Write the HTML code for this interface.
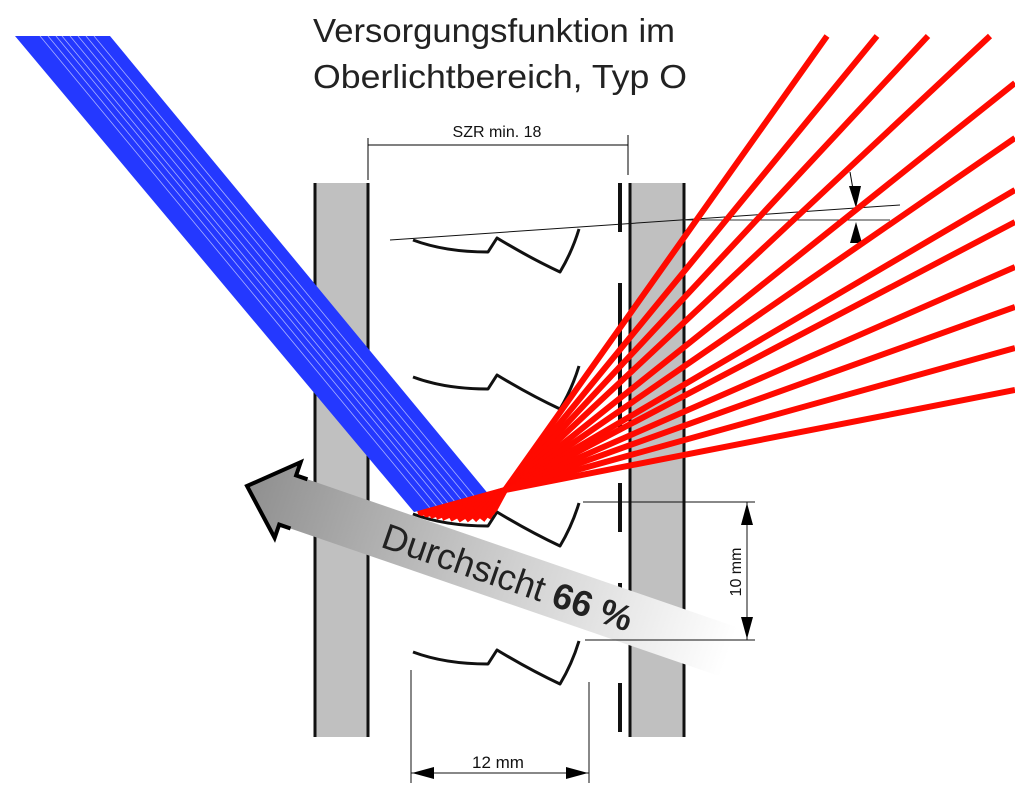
<!DOCTYPE html>
<html><head><meta charset="utf-8"><style>
html,body{margin:0;padding:0;background:#fff;}
svg{display:block;}
text{font-family:"Liberation Sans",sans-serif;}
</style></head><body>
<svg width="1015" height="793" viewBox="0 0 1015 793" xmlns="http://www.w3.org/2000/svg">
<defs>
<linearGradient id="g" x1="0" y1="0" x2="1" y2="0">
<stop offset="0" stop-color="#8f8f8f"/><stop offset="0.55" stop-color="#d0d0d0"/><stop offset="1" stop-color="#ffffff"/>
</linearGradient>
<clipPath id="bc"><polygon points="15,36 110,36 490,496 414,512"/></clipPath>
</defs>

<!-- title -->
<text x="494" y="42" font-size="33" text-anchor="middle" fill="#222" textLength="362" lengthAdjust="spacingAndGlyphs">Versorgungsfunktion im</text>
<text x="500" y="88" font-size="33" text-anchor="middle" fill="#222" textLength="374" lengthAdjust="spacingAndGlyphs">Oberlichtbereich, Typ O</text>

<!-- SZR dim -->
<text x="497" y="137" font-size="16" text-anchor="middle" fill="#111">SZR min. 18</text>
<line x1="368" y1="145" x2="628" y2="145" stroke="#000" stroke-width="1"/>
<line x1="368" y1="138" x2="368" y2="180" stroke="#000" stroke-width="1"/>
<line x1="628" y1="135" x2="628" y2="175" stroke="#000" stroke-width="1"/>

<!-- panes -->
<rect x="314" y="183" width="55" height="554" fill="#c0c0c0"/>
<line x1="315" y1="183" x2="315" y2="737" stroke="#111" stroke-width="3"/>
<line x1="368" y1="183" x2="368" y2="737" stroke="#111" stroke-width="3"/>
<rect x="629" y="183" width="55" height="554" fill="#c0c0c0"/>
<line x1="630" y1="183" x2="630" y2="737" stroke="#111" stroke-width="3"/>
<line x1="684" y1="183" x2="684" y2="737" stroke="#111" stroke-width="3"/>
<g stroke="#111" stroke-width="4">
<line x1="620" y1="183" x2="620" y2="232"/>
<line x1="620" y1="283" x2="620" y2="430"/>
<line x1="620" y1="483" x2="620" y2="532"/>
<line x1="620" y1="583" x2="620" y2="640"/>
<line x1="620" y1="683" x2="620" y2="732"/>
</g>

<!-- slats -->
<g fill="none" stroke="#111" stroke-width="3" stroke-linejoin="round">
<path d="M413,240 Q445,252 488,252 L497,238 Q530,258 560,272 Q572,252 579,229"/>
<path d="M413,377 Q445,389 488,389 L497,375 Q530,395 560,409 Q572,389 579,366"/>
<path d="M413,514 Q445,526 488,526 L497,512 Q530,532 560,546 Q572,526 579,503"/>
<path d="M413,652 Q445,664 488,664 L497,650 Q530,670 560,684 Q572,664 579,641"/>
</g>

<!-- angle lines -->
<line x1="390" y1="240" x2="900" y2="205" stroke="#111" stroke-width="1"/>
<line x1="684" y1="220" x2="890" y2="220" stroke="#333" stroke-width="1"/>
<line x1="850" y1="172" x2="854" y2="195" stroke="#000" stroke-width="1"/>
<polygon points="849,186 861,186 856,208" fill="#000"/>
<polygon points="850,243 862,243 856,222" fill="#000"/>

<!-- blue beam -->
<polygon points="15,36 110,36 490,496 414,512" fill="#2438ff"/>
<g clip-path="url(#bc)" stroke="#fff" stroke-opacity="0.6" stroke-width="0.8">
<line x1="40" y1="36" x2="440" y2="520"/>
<line x1="48" y1="36" x2="448" y2="520"/>
<line x1="56" y1="36" x2="456" y2="520"/>
<line x1="62" y1="36" x2="462" y2="520"/>
<line x1="70" y1="36" x2="470" y2="520"/>
<line x1="78" y1="36" x2="478" y2="520"/>
<line x1="86" y1="36" x2="486" y2="520"/>
<line x1="94" y1="36" x2="494" y2="520"/>
</g>

<!-- red rays -->
<g fill="none" stroke="#ff0a00" stroke-width="6" stroke-linejoin="round">
<polyline points="418,514 505,490 827,36"/>
<polyline points="424,515 505,490 877,36"/>
<polyline points="430,516 505,490 928,36"/>
<polyline points="436,517 505,490 990,36"/>
<polyline points="442,518 505,490 1015,83"/>
<polyline points="450,519 505,490 1015,138"/>
<polyline points="458,520 505,490 1015,190"/>
<polyline points="466,520 505,490 1015,222"/>
<polyline points="474,520 505,490 1015,267"/>
<polyline points="482,520 505,490 1015,307"/>
<polyline points="488,518 505,490 1015,348"/>
<polyline points="492,514 505,490 1015,390"/>
</g>
<path d="M413,514 Q445,526 488,526 L497,512" fill="none" stroke="#111" stroke-width="2"/>

<!-- gray arrow -->
<g transform="translate(247,486) rotate(19)">
<polygon points="0,0 43,-40 43,-26 510,-26 510,26 43,26 43,40" fill="url(#g)"/>
<polyline points="55,-26 43,-26 43,-40 0,0 43,40 43,26 55,26" fill="none" stroke="#000" stroke-width="4" stroke-linejoin="miter"/>
<text x="145" y="14" font-size="36" fill="#222">Durchsicht <tspan font-weight="bold">66 %</tspan></text>
</g>

<!-- 10 mm dim -->
<line x1="583" y1="502" x2="755" y2="502" stroke="#111" stroke-width="1"/>
<line x1="585" y1="640" x2="755" y2="640" stroke="#111" stroke-width="1"/>
<line x1="747" y1="502" x2="747" y2="640" stroke="#111" stroke-width="1"/>
<polygon points="741,525 753,525 747,503" fill="#000"/>
<polygon points="741,617 753,617 747,639" fill="#000"/>
<text transform="translate(741,572) rotate(-90)" font-size="16" text-anchor="middle" fill="#111">10 mm</text>

<!-- 12 mm dim -->
<line x1="411" y1="670" x2="411" y2="783" stroke="#111" stroke-width="1"/>
<line x1="589" y1="682" x2="589" y2="783" stroke="#111" stroke-width="1"/>
<line x1="411" y1="773" x2="589" y2="773" stroke="#111" stroke-width="1"/>
<polygon points="412,773 434,767 434,779" fill="#000"/>
<polygon points="588,773 566,767 566,779" fill="#000"/>
<text x="498" y="768" font-size="17" text-anchor="middle" fill="#111">12 mm</text>
</svg>
</body></html>
